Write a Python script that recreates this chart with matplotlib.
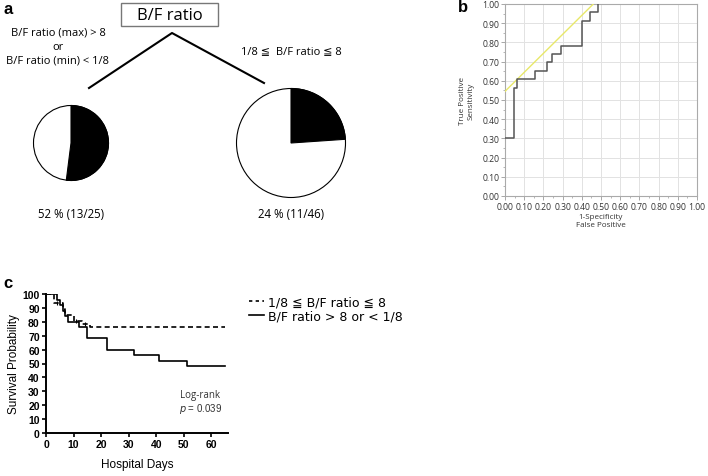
import matplotlib
matplotlib.use('Agg')
import matplotlib.pyplot as plt
from matplotlib.patches import Rectangle, Wedge, Circle
from matplotlib.lines import Line2D
import numpy as np

plt.rcParams['font.family'] = ['Liberation Sans', 'DejaVu Sans', 'Noto Sans CJK JP']

# ---- panel a: pie data
pie_labels = ['52 % (13/25)', '24 % (11/46)']
pie_events = [13, 11]
pie_totals = [25, 46]
group_names = ['B/F ratio (max) > 8\nor\nB/F ratio (min) < 1/8',
               '1/8 \u2266  B/F ratio \u2266 8']

# ---- panel b: ROC curve (1-specificity, sensitivity)
roc_fpr = [0.0, 0.045, 0.045, 0.065, 0.065, 0.155, 0.155, 0.22, 0.22, 0.245, 0.245,
           0.29, 0.29, 0.40, 0.40, 0.445, 0.445, 0.485, 0.485]
roc_tpr = [0.304, 0.304, 0.565, 0.565, 0.609, 0.609, 0.652, 0.652, 0.696, 0.696, 0.739,
           0.739, 0.783, 0.783, 0.913, 0.913, 0.957, 0.957, 1.0]
tangent_x = [0.0, 0.46]
tangent_y = [0.545, 1.0]

# ---- panel c: Kaplan-Meier curves
km_days_mid = [0, 3, 6, 7, 10, 13, 16, 65]
km_surv_mid = [100, 93.5, 89.1, 84.8, 80.4, 78.3, 76.1, 76.1]
km_days_ext = [0, 4, 5, 6, 7, 8, 12, 15, 22, 32, 41, 51, 65]
km_surv_ext = [100, 96, 92, 88, 84, 80, 76, 68, 60, 56, 52, 48, 48]
censor_days = [4, 11, 14]
censor_surv = [93.5, 80.4, 78.3]

W, H = 708, 477
fig = plt.figure(figsize=(W / 100, H / 100), dpi=100)

# ================= panel a (drawn in pixel coords)
axa = fig.add_axes([0, 1 - 240 / H, 360 / W, 240 / H])
axa.set_xlim(0, 360)
axa.set_ylim(240, 0)
axa.set_aspect('equal')
axa.axis('off')

afont = ['Open Sans', 'DejaVu Sans', 'Noto Sans CJK JP']
axa.text(3, 9, 'a', fontsize=12, fontweight='bold', va='center', ha='left', family='Liberation Sans')
axa.add_patch(Rectangle((121, 4), 97, 23, fill=False, ec='#777777', lw=1))
axa.text(169.5, 15.5, 'B/F ratio', fontsize=12, ha='center', va='center', family=afont)
axa.plot([89, 172, 264], [89, 34, 84], color='black', lw=1.5)
axa.text(58, 47, group_names[0], fontsize=8, ha='center', va='center', family=afont, linespacing=1.35)
axa.text(291, 52, group_names[1], fontsize=8, ha='center', va='center', family=afont)

centers = [(71, 144), (291, 144)]
radii = [37.5, 54.5]
for (cx, cy), r, ev, tot, lab in zip(centers, radii, pie_events, pie_totals, pie_labels):
    frac = ev / tot
    axa.add_patch(Circle((cx, cy), r, fc='white', ec='black', lw=0.8))
    axa.add_patch(Wedge((cx, cy), r, 270, 270 + 360 * frac, fc='black', ec='black', lw=0.8))
    axa.text(cx, 215, lab, fontsize=8.3, ha='center', va='center', family=afont)

# ================= panel b: ROC
bfont = ['Open Sans', 'DejaVu Sans']
axb = fig.add_axes([505 / W, 1 - 197 / H, 192 / W, 192 / H])
axb.set_xlim(0, 1)
axb.set_ylim(0, 1)
ticks = np.arange(0, 1.01, 0.1)
axb.set_xticks(ticks)
axb.set_yticks(ticks)
axb.set_xticks(np.arange(0.05, 1.0, 0.1), minor=True)
axb.set_yticks(np.arange(0.05, 1.0, 0.1), minor=True)
axb.set_xticklabels(['%.2f' % t for t in ticks], fontsize=6.2, family=bfont, color='#333333')
axb.set_yticklabels(['%.2f' % t for t in ticks], fontsize=6.2, family=bfont, color='#333333')
axb.tick_params(which='major', length=3, width=0.6, color='#999999', pad=1)
axb.tick_params(which='minor', length=1.5, width=0.5, color='#999999')
axb.grid(True, which='major', color='#e2e2e2', lw=0.7)
for s in axb.spines.values():
    s.set_color('#aaaaaa')
    s.set_linewidth(0.8)
axb.plot(tangent_x, tangent_y, color='#e8e86a', lw=1.0, zorder=3)
axb.plot(roc_fpr, roc_tpr, color='#555555', lw=1.1, zorder=4)
axb.set_xlabel('1-Specificity\nFalse Positive', fontsize=5.8, family=bfont, color='#333333', labelpad=2)
axb.set_ylabel('True Positive\nSensitivity', fontsize=5.8, family=bfont, color='#333333', labelpad=6)
fig.text(463 / W, 1 - 8 / H, 'b', fontsize=12, fontweight='bold', ha='center', va='center')

# ================= panel c: KM
axc = fig.add_axes([46 / W, 1 - 434 / H, 182 / W, 139 / H])
axc.step(km_days_mid, km_surv_mid, where='post', color='black', lw=1.2, ls=(0, (3, 2)))
axc.step(km_days_ext, km_surv_ext, where='post', color='black', lw=1.2)
axc.plot(censor_days, censor_surv, ls='none', marker='|', color='black', ms=3, mew=0.8)
axc.set_xlim(0, 66)
axc.set_ylim(0, 100)
axc.set_xticks(range(0, 61, 10))
axc.set_yticks(range(0, 101, 10))
axc.tick_params(labelsize=7.5, length=3, width=1.2, pad=1.5)
for t in axc.get_xticklabels() + axc.get_yticklabels():
    t.set_fontweight('bold')
axc.spines['top'].set_visible(False)
axc.spines['right'].set_visible(False)
axc.spines['left'].set_linewidth(1.4)
axc.spines['bottom'].set_linewidth(1.4)
axc.set_xlabel('Hospital Days', fontsize=8.5, labelpad=6)
axc.set_ylabel('Survival Probability', fontsize=8.5, labelpad=2)
axc.text(56, 28, 'Log-rank', fontsize=7, ha='center', va='center', family=afont, color='#333333')
axc.text(56, 18, '$p$ = 0.039', fontsize=7, ha='center', va='center', color='#333333')
fig.text(3 / W, 1 - 283 / H, 'c', fontsize=12, fontweight='bold', ha='left', va='center')

handles = [Line2D([0], [0], color='black', lw=1.2, ls=(0, (2, 2))),
           Line2D([0], [0], color='black', lw=1.2)]
leg = fig.legend(handles, ['1/8 \u2266 B/F ratio \u2266 8', 'B/F ratio > 8 or < 1/8'],
                 loc='upper left', bbox_to_anchor=(243 / W, 1 - 290 / H), frameon=False,
                 handlelength=1.2, handletextpad=0.3, labelspacing=0.1,
                 borderpad=0, prop={'family': ['DejaVu Sans', 'Noto Sans CJK JP'], 'size': 9})

fig.savefig('out.png', dpi=100)
